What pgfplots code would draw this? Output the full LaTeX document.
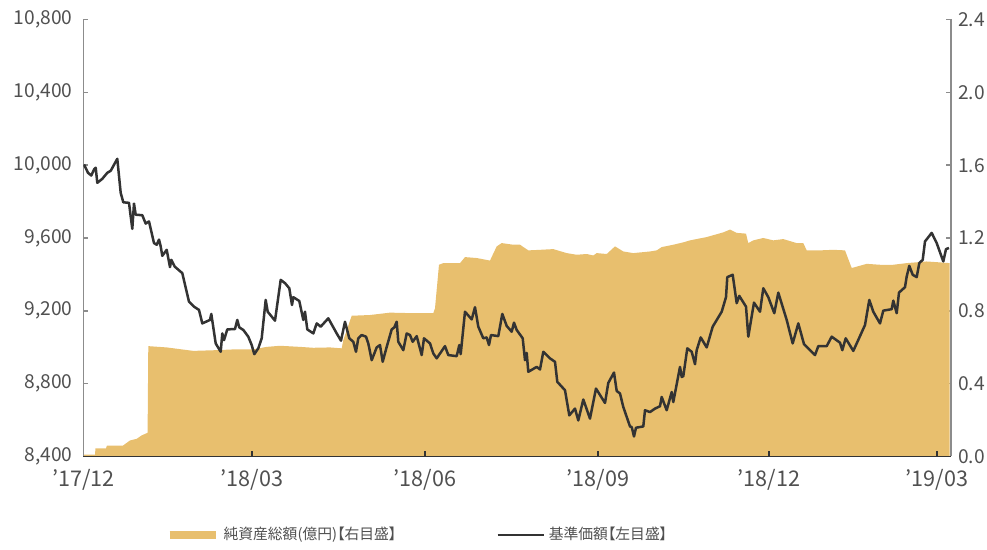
\documentclass[border=0pt]{standalone}
\usepackage{fontspec}
\setmainfont{Noto Sans CJK JP}[RawFeature=+palt]
\usepackage{pgfplots}
\usepackage{pgfplotstable}
\pgfplotsset{compat=1.18}
\definecolor{gold}{RGB}{232,191,110}
\definecolor{ink}{HTML}{333333}
\definecolor{lab}{HTML}{505050}
\definecolor{axg}{HTML}{8C8C8C}

\pgfplotstableread{
x v
84 0.01
95 0.01
95.5 0.045
106 0.045
107 0.06
123 0.06
130 0.088
136.7 0.097
141.7 0.116
146.7 0.128
147.6 0.13
148.3 0.606
166.7 0.599
193.3 0.580
216.7 0.584
233.3 0.588
253.3 0.588
266.7 0.602
280 0.608
300 0.602
313.3 0.597
330 0.599
341.7 0.594
343.3 0.639
351.7 0.773
370 0.777
390 0.790
413.3 0.787
433.3 0.787
435 0.814
439 1.053
443.3 1.062
460 1.062
465 1.095
476.7 1.090
490 1.076
496.7 1.154
501.7 1.172
513.3 1.163
520 1.163
528.3 1.132
540 1.135
553.3 1.139
566.7 1.117
576.7 1.108
586.7 1.112
593.3 1.104
596.7 1.117
606.7 1.112
615 1.154
623.3 1.126
633.3 1.117
650 1.126
656.7 1.132
661.7 1.150
673.3 1.163
683.3 1.176
690 1.187
706.7 1.205
723.3 1.231
730 1.246
736.7 1.228
746 1.224
748.3 1.172
753.3 1.187
763.3 1.200
773.3 1.187
783.3 1.194
796.7 1.172
803.3 1.172
806.7 1.132
820 1.132
833.3 1.135
845 1.132
851.7 1.035
866.7 1.058
880 1.053
893.3 1.053
906.7 1.062
926.7 1.071
940 1.066
949.5 1.062
}\netassets

\pgfplotstableread{
x v
84 10004
88 9958
91.3 9943
94 9976
95.7 9986
97.3 9903
102.3 9925
107.3 9958
110.7 9969
117.3 10035
120.7 9848
123.3 9796
129 9793
132.3 9650
134 9789
135.7 9728
142.3 9725
145.7 9679
149 9691
154 9572
156.7 9563
159 9591
160.7 9554
162.3 9502
166.7 9535
170 9440
171.3 9480
174.7 9443
182.3 9407
189 9250
194 9223
199 9205
202.3 9131
210 9150
211.3 9183
215.7 9021
220.7 8975
222.3 9076
224 9039
227.3 9098
235 9100
237.3 9150
239.3 9109
243.3 9095
248.3 9058
251.7 9012
254.3 8962
258.3 8994
261.7 9049
265.7 9260
267.7 9195
275 9146
280.7 9370
285 9352
289.3 9324
292 9232
293.3 9275
299.3 9254
303.3 9150
305 9195
307.3 9098
313.3 9076
316.7 9131
320.7 9113
328.3 9159
336.7 9076
341 9036
345 9140
349.3 9049
353.3 9030
356 8975
358.3 9049
361.7 9067
366 9058
368.3 9021
371.7 8929
376.7 8999
380 9012
382.7 8920
386.7 9002
391.7 9098
394.3 9109
396.7 9140
398.3 9030
403.3 8984
406.7 9076
410 9067
412.7 9030
416.7 9061
421.7 8957
424 9049
430 9021
433.3 8966
436.7 8939
445 9006
448.3 8957
456.7 8951
459.3 9012
460.7 8962
465 9195
471.7 9153
475 9220
478.3 9113
483.3 9049
486.7 9054
489 9012
491 9067
498.3 9061
502.3 9183
506.7 9117
511.7 9085
514 9135
516.7 9095
522.7 9049
525 8929
526.7 8969
528.3 8865
536.7 8892
540 8878
543.3 8975
550 8939
555 8920
557.3 8810
565 8764
569.3 8626
575 8663
578.3 8598
583.3 8713
590 8608
596 8773
605 8694
608.3 8804
614 8861
616.7 8760
620 8746
623.3 8672
630 8565
631.7 8562
634 8510
636 8558
643.3 8565
645 8654
650 8644
655 8663
660 8676
661.7 8727
666.7 8654
671.7 8754
673.3 8699
680 8892
681.7 8837
683.3 8841
687.3 8994
691.7 8975
695 8907
696.7 8984
700.7 9054
706.7 8999
712.7 9113
721.7 9195
726 9275
727.3 9385
732.7 9398
736.7 9242
739.3 9282
746 9223
748.3 9058
754 9245
760 9195
763.3 9324
768.3 9275
774.3 9187
778.3 9300
786.7 9150
792.7 9021
798.3 9131
804 9017
815 8957
818.3 9006
826.7 9006
831.7 9058
840 9025
842.3 8984
845.7 9049
853.3 8980
856.7 9021
865 9122
869.3 9260
873.3 9195
880 9131
883.3 9201
891.7 9209
893.3 9256
896.7 9187
899 9300
905 9330
906.7 9388
909.3 9447
912.7 9398
916.7 9385
919.3 9462
922.7 9480
925 9581
931.7 9628
936.7 9572
943.3 9471
946 9539
949 9545
}\nav

\begin{document}
\begin{tikzpicture}
\path[use as bounding box] (-41.75pt,-46.75pt) rectangle (451.75pt,228.25pt);
\pgfplotsset{base/.style={
  scale only axis, width=433.75pt, height=218.5pt,
  xmin=83.5, xmax=951,
  tick align=inside, major tick length=2.5pt,
  ticklabel style={font=\fontsize{9.6}{12}\selectfont, text=lab},
  /pgf/number format/assume math mode=true,
  scaled y ticks=false,
}}
\begin{axis}[base,
  axis x line=none, axis y line*=right,
  ymin=0, ymax=2.4,
  ytick={0,0.4,0.8,1.2,1.6,2.0,2.4},
  yticklabel style={/pgf/number format/fixed, /pgf/number format/fixed zerofill, /pgf/number format/precision=1},
  y axis line style={-, axg, line width=0.7pt},
  ytick style={axg, line width=0.7pt},
]
\addplot[fill=gold, draw=none] table[x=x, y=v] {\netassets} \closedcycle;
\end{axis}
\begin{axis}[base,
  axis x line*=bottom, axis y line*=left,
  ymin=8400, ymax=10800,
  ytick={8400,8800,9200,9600,10000,10400,10800},
  yticklabel style={/pgf/number format/1000 sep={,}, xshift=-2pt},
  xtick={83.5,252,425,598,769,937},
  xticklabels={’17/12,’18/03,’18/06,’18/09,’18/12,’19/03},
  xticklabel style={yshift=-3pt, font=\fontsize{10.8}{13}\selectfont},
  x axis line style={-, ink, line width=0.9pt},
  y axis line style={-, axg, line width=0.7pt},
  xtick style={ink, line width=0.7pt},
  ytick style={axg, line width=0.7pt},
  legend style={at={(0.386,-0.18)}, anchor=center, draw=none, fill=none,
    font=\fontsize{7.4}{9}\selectfont, text=lab,
    /tikz/every even column/.append style={column sep=48pt}},
  legend columns=2,
  legend cell align=left,
  legend image code/.code={\draw[#1] (0pt,0pt) -- (23pt,0pt);},
]
\addlegendimage{gold, line width=4pt}
\addlegendentry{純資産総額(億円)【右目盛】}
\addplot[ink, line width=1.25pt, line join=round] table[x=x, y=v] {\nav};
\addlegendentry{基準価額【左目盛】}
\end{axis}
\end{tikzpicture}
\end{document}
